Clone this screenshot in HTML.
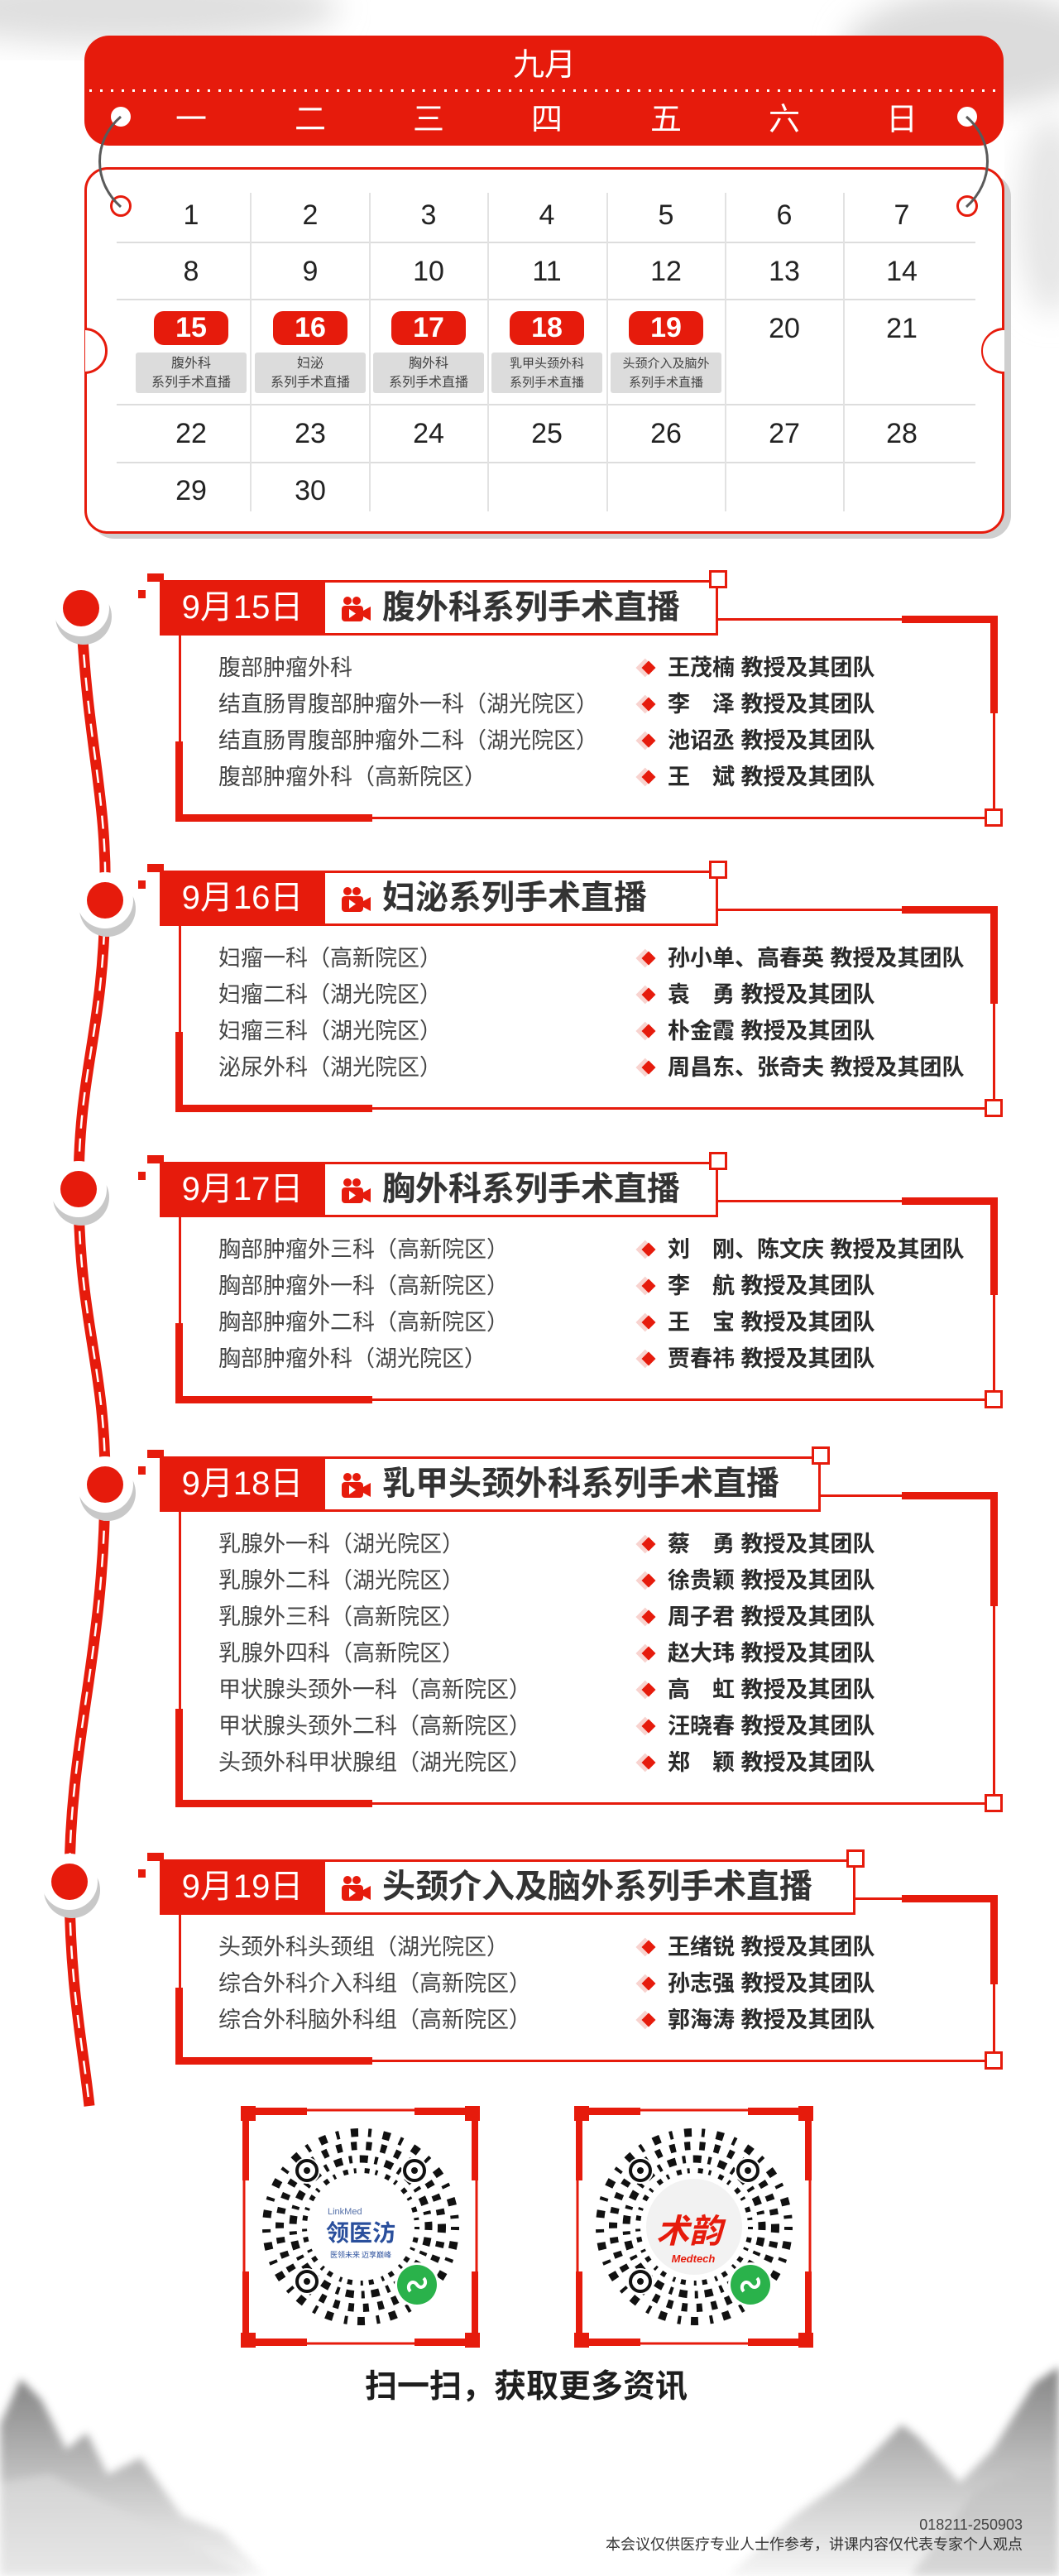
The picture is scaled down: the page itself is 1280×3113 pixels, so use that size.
<!DOCTYPE html>
<html><head><meta charset="utf-8"><style>
*{margin:0;padding:0;box-sizing:border-box}
body{width:1280px;height:3113px;position:relative;background:#fff;overflow:hidden;font-family:"Liberation Sans","Noto Sans CJK SC",sans-serif}
.a{position:absolute}
.r{background:#e61b0c}
.wd{position:absolute;top:122px;width:60px;margin-left:-30px;text-align:center;color:#fff;font-size:38px;line-height:46px}
.n{position:absolute;width:100px;margin-left:-50px;text-align:center;font-family:"Liberation Sans Narrow","Liberation Sans",sans-serif;font-size:34px;color:#222;line-height:40px}
.hl{position:absolute;left:141px;width:1038px;height:2px;background:#ddd}
.vl{position:absolute;top:233px;height:385px;width:2px;background:#e2e2e2}
.bd{position:absolute;top:376px;width:90px;margin-left:-45px;height:41px;border-radius:12px;background:#e61b0c;color:#fff;font-family:"Liberation Sans Narrow","Liberation Sans",sans-serif;font-size:34px;line-height:41px;text-align:center;font-weight:bold}
.gl{position:absolute;top:426px;width:134px;margin-left:-67px;height:49px;background:#dcdcdc;border-radius:3px;color:#444;font-size:16px;line-height:23px;text-align:center;padding-top:2px;white-space:nowrap}
.sec{position:absolute;left:0;width:1280px}
.sec .t{position:absolute;left:264px;font-size:27px;color:#444;line-height:34px;white-space:nowrap}
.sec .m{position:absolute;left:807px;font-size:27px;color:#2a2a2a;font-weight:bold;line-height:34px;white-space:nowrap}
.sec .d{position:absolute;left:778px;width:12px;height:12px;background:#e61b0c;transform:rotate(45deg);box-shadow:-3px 3px 0 2px #f8d3cf}
.sq{position:absolute;width:22px;height:22px;border:3px solid #e61b0c;background:#fff}
.date{position:absolute;left:193px;top:0;width:200px;height:67px;background:#e61b0c;color:#fff;font-size:40px;line-height:67px;text-align:center;font-family:"Liberation Sans Narrow","Liberation Sans","Noto Sans CJK SC",sans-serif}
.ttl{position:absolute;left:393px;top:0;height:67px;border:3px solid #e61b0c;border-left:none;background:#fff;font-size:40px;font-weight:bold;color:#333;line-height:61px;padding-left:69px;white-space:nowrap}
.ic{position:absolute;left:18px;top:16px;width:38px;height:32px}
</style></head><body>

<svg class="a" style="left:0;top:0" width="1280" height="3113">
<defs>
<filter id="bl" x="-20%" y="-20%" width="140%" height="140%"><feGaussianBlur stdDeviation="18"/></filter>
<filter id="bl2"><feGaussianBlur stdDeviation="5"/></filter>
<linearGradient id="mg" x1="0" y1="0" x2="0" y2="1"><stop offset="0" stop-color="#6f6f6f"/><stop offset="0.6" stop-color="#c4c4c4"/><stop offset="1" stop-color="#f4f4f4"/></linearGradient>
</defs>
<ellipse cx="150" cy="10" rx="260" ry="45" fill="#e0e0e0" filter="url(#bl)"/>
<ellipse cx="1180" cy="60" rx="160" ry="70" fill="#dcdcdc" filter="url(#bl)"/>
<ellipse cx="1270" cy="260" rx="40" ry="120" fill="#e6e6e6" filter="url(#bl)"/>
<g filter="url(#bl2)" opacity="0.85">
<path d="M0,2930 L25,2875 L50,2900 L80,2960 L105,2940 L130,2990 L170,2970 L220,3040 L270,3060 L320,3113 L0,3113Z" fill="url(#mg)"/>
<path d="M0,3000 L60,2990 L140,3030 L220,3070 L300,3113 L0,3113Z" fill="#d8d8d8" opacity="0.6"/>
<path d="M880,3113 L960,3040 L1030,2990 L1090,2930 L1110,2945 L1160,3000 L1200,2960 L1250,2880 L1280,2860 L1280,3113Z" fill="url(#mg)"/>
<path d="M1100,3113 L1180,3010 L1230,2990 L1280,2960 L1280,3113Z" fill="#b0b0b0" opacity="0.5"/>
</g>
</svg>

<div class="a" style="left:110px;top:210px;width:1112px;height:441px;border-radius:28px;background:#cfcfcf"></div>
<div class="a" style="left:102px;top:202px;width:1112px;height:443px;border-radius:28px;border:3px solid #e61b0c;background:#fff"></div>
<div class="a" style="left:74px;top:396px;width:56px;height:56px;border-radius:50%;border:3px solid #e61b0c;background:#fff;clip-path:inset(0 0 0 29px)"></div>
<div class="a" style="left:1186px;top:396px;width:56px;height:56px;border-radius:50%;border:3px solid #e61b0c;background:#fff;clip-path:inset(0 29px 0 0)"></div>
<div class="a" style="left:1188px;top:399px;width:52px;height:50px;border-radius:50%;background:#fff;clip-path:inset(0 26px 0 0)"></div>
<div class="a r" style="left:102px;top:43px;width:1111px;height:133px;border-radius:30px"></div>
<div class="a" style="left:0;top:56px;width:1316px;text-align:center;color:#fff;font-size:38px;line-height:46px">九月</div>
<div class="a" style="left:108px;top:108px;width:1100px;height:3px;background:repeating-linear-gradient(90deg,#fff 0 3px,transparent 3px 13px)"></div>
<div class="wd" style="left:231px">一</div><div class="wd" style="left:375px">二</div><div class="wd" style="left:518px">三</div><div class="wd" style="left:661px">四</div><div class="wd" style="left:805px">五</div><div class="wd" style="left:948px">六</div><div class="wd" style="left:1090px">日</div>
<div class="a" style="left:134px;top:129px;width:24px;height:24px;border-radius:50%;background:#fff"></div>
<div class="a" style="left:1157px;top:129px;width:24px;height:24px;border-radius:50%;background:#fff"></div>
<div class="a" style="left:133px;top:236px;width:26px;height:26px;border-radius:50%;border:3px solid #e61b0c"></div>
<div class="a" style="left:1156px;top:236px;width:26px;height:26px;border-radius:50%;border:3px solid #e61b0c"></div>
<svg class="a" style="left:0;top:0" width="1280" height="300">
<path d="M146,141 C112,170 112,220 146,250" stroke="#5a5a5a" stroke-width="3" fill="none"/>
<path d="M1168,141 C1202,170 1202,220 1168,250" stroke="#5a5a5a" stroke-width="3" fill="none"/>
</svg>
<div class="hl" style="top:292px"></div><div class="hl" style="top:361px"></div><div class="hl" style="top:488px"></div><div class="hl" style="top:558px"></div>
<div class="vl" style="left:302px"></div><div class="vl" style="left:446px"></div><div class="vl" style="left:589px"></div><div class="vl" style="left:733px"></div><div class="vl" style="left:876px"></div><div class="vl" style="left:1019px"></div>
<div class="n" style="left:231px;top:240px">1</div><div class="n" style="left:375px;top:240px">2</div><div class="n" style="left:518px;top:240px">3</div><div class="n" style="left:661px;top:240px">4</div><div class="n" style="left:805px;top:240px">5</div><div class="n" style="left:948px;top:240px">6</div><div class="n" style="left:1090px;top:240px">7</div>
<div class="n" style="left:231px;top:308px">8</div><div class="n" style="left:375px;top:308px">9</div><div class="n" style="left:518px;top:308px">10</div><div class="n" style="left:661px;top:308px">11</div><div class="n" style="left:805px;top:308px">12</div><div class="n" style="left:948px;top:308px">13</div><div class="n" style="left:1090px;top:308px">14</div>
<div class="bd" style="left:231px">15</div><div class="bd" style="left:375px">16</div><div class="bd" style="left:518px">17</div><div class="bd" style="left:661px">18</div><div class="bd" style="left:805px">19</div>
<div class="n" style="left:948px;top:377px">20</div><div class="n" style="left:1090px;top:377px">21</div>
<div class="gl" style="left:231px">腹外科<br>系列手术直播</div>
<div class="gl" style="left:375px">妇泌<br>系列手术直播</div>
<div class="gl" style="left:518px">胸外科<br>系列手术直播</div>
<div class="gl" style="left:661px;font-size:15px">乳甲头颈外科<br>系列手术直播</div>
<div class="gl" style="left:805px;font-size:15px">头颈介入及脑外<br>系列手术直播</div>
<div class="n" style="left:231px;top:504px">22</div><div class="n" style="left:375px;top:504px">23</div><div class="n" style="left:518px;top:504px">24</div><div class="n" style="left:661px;top:504px">25</div><div class="n" style="left:805px;top:504px">26</div><div class="n" style="left:948px;top:504px">27</div><div class="n" style="left:1090px;top:504px">28</div>
<div class="n" style="left:231px;top:573px">29</div><div class="n" style="left:375px;top:573px">30</div>

<svg class="a" style="left:0;top:650px" width="260" height="1900">
<g transform="translate(0,-650)">
<path d="M98,735 C105,900 130,960 127,1088 C125,1250 95,1290 95,1437 C95,1600 128,1650 127,1794 C126,2000 84,2100 84,2274 C84,2400 100,2470 108,2545" stroke="#e61b0c" stroke-width="13" fill="none"/>
<path d="M98,735 C105,900 130,960 127,1088 C125,1250 95,1290 95,1437 C95,1600 128,1650 127,1794 C126,2000 84,2100 84,2274 C84,2400 100,2470 108,2545" stroke="#fff" stroke-width="2.5" stroke-dasharray="16 12" fill="none"/>
<g>
<circle cx="101" cy="745" r="34" fill="#c8c8c8"/><circle cx="98" cy="735" r="34" fill="#fff"/><circle cx="98" cy="735" r="22" fill="#e61b0c"/>
<circle cx="130" cy="1098" r="34" fill="#c8c8c8"/><circle cx="127" cy="1088" r="34" fill="#fff"/><circle cx="127" cy="1088" r="22" fill="#e61b0c"/>
<circle cx="98" cy="1447" r="34" fill="#c8c8c8"/><circle cx="95" cy="1437" r="34" fill="#fff"/><circle cx="95" cy="1437" r="22" fill="#e61b0c"/>
<circle cx="130" cy="1804" r="34" fill="#c8c8c8"/><circle cx="127" cy="1794" r="34" fill="#fff"/><circle cx="127" cy="1794" r="22" fill="#e61b0c"/>
<circle cx="87" cy="2284" r="34" fill="#c8c8c8"/><circle cx="84" cy="2274" r="34" fill="#fff"/><circle cx="84" cy="2274" r="22" fill="#e61b0c"/>
</g></g>
</svg>

<svg width="0" height="0" style="position:absolute"><defs><symbol id="cam" viewBox="0 0 38 32"><circle cx="9" cy="6" r="5" fill="#e61b0c"/><circle cx="20" cy="6" r="5" fill="#e61b0c"/><rect x="2" y="12" width="26" height="19" rx="4" fill="#e61b0c"/><path d="M28,18 L37,13 L37,30 L28,25Z" fill="#e61b0c"/><path d="M11,16 L19,21.5 L11,27Z" fill="#fff"/></symbol></defs></svg>

<div class="sec" style="top:701px;height:287px">
 <div class="a r" style="left:178px;top:-8px;width:20px;height:10px"></div><div class="a r" style="left:167px;top:12px;width:9px;height:10px"></div>
 <div class="date">9月15日</div>
 <div class="ttl" style="width:475px"><svg class="ic"><use href="#cam"/></svg>腹外科系列手术直播</div>
 <div class="sq" style="left:857px;top:-12px"></div>
 <div class="a r" style="left:868px;top:46px;width:337px;height:3px"></div>
 <div class="a r" style="left:1090px;top:43px;width:115px;height:9px"></div>
 <div class="a r" style="left:1197px;top:43px;width:9px;height:118px"></div>
 <div class="a r" style="left:1200px;top:160px;width:3px;height:127px"></div>
 <div class="a r" style="left:216px;top:67px;width:3px;height:130px"></div>
 <div class="a r" style="left:212px;top:195px;width:9px;height:96px"></div>
 <div class="a r" style="left:212px;top:283px;width:238px;height:9px"></div>
 <div class="a r" style="left:449px;top:286px;width:745px;height:3px"></div>
 <div class="sq" style="left:1190px;top:276px"></div>
 <div class="t" style="top:89px">腹部肿瘤外科</div><div class="d" style="top:100px"></div><div class="m" style="top:89px">王茂楠 教授及其团队</div>
 <div class="t" style="top:133px">结直肠胃腹部肿瘤外一科（湖光院区）</div><div class="d" style="top:144px"></div><div class="m" style="top:133px">李　泽 教授及其团队</div>
 <div class="t" style="top:177px">结直肠胃腹部肿瘤外二科（湖光院区）</div><div class="d" style="top:188px"></div><div class="m" style="top:177px">池诏丞 教授及其团队</div>
 <div class="t" style="top:221px">腹部肿瘤外科（高新院区）</div><div class="d" style="top:232px"></div><div class="m" style="top:221px">王　斌 教授及其团队</div>
</div>

<div class="sec" style="top:1052px;height:287px">
 <div class="a r" style="left:178px;top:-8px;width:20px;height:10px"></div><div class="a r" style="left:167px;top:12px;width:9px;height:10px"></div>
 <div class="date">9月16日</div>
 <div class="ttl" style="width:475px"><svg class="ic"><use href="#cam"/></svg>妇泌系列手术直播</div>
 <div class="sq" style="left:857px;top:-12px"></div>
 <div class="a r" style="left:868px;top:46px;width:337px;height:3px"></div>
 <div class="a r" style="left:1090px;top:43px;width:115px;height:9px"></div>
 <div class="a r" style="left:1197px;top:43px;width:9px;height:118px"></div>
 <div class="a r" style="left:1200px;top:160px;width:3px;height:127px"></div>
 <div class="a r" style="left:216px;top:67px;width:3px;height:130px"></div>
 <div class="a r" style="left:212px;top:195px;width:9px;height:96px"></div>
 <div class="a r" style="left:212px;top:283px;width:238px;height:9px"></div>
 <div class="a r" style="left:449px;top:286px;width:745px;height:3px"></div>
 <div class="sq" style="left:1190px;top:276px"></div>
 <div class="t" style="top:89px">妇瘤一科（高新院区）</div><div class="d" style="top:100px"></div><div class="m" style="top:89px">孙小单、高春英 教授及其团队</div>
 <div class="t" style="top:133px">妇瘤二科（湖光院区）</div><div class="d" style="top:144px"></div><div class="m" style="top:133px">袁　勇 教授及其团队</div>
 <div class="t" style="top:177px">妇瘤三科（湖光院区）</div><div class="d" style="top:188px"></div><div class="m" style="top:177px">朴金霞 教授及其团队</div>
 <div class="t" style="top:221px">泌尿外科（湖光院区）</div><div class="d" style="top:232px"></div><div class="m" style="top:221px">周昌东、张奇夫 教授及其团队</div>
</div>

<div class="sec" style="top:1404px;height:287px">
 <div class="a r" style="left:178px;top:-8px;width:20px;height:10px"></div><div class="a r" style="left:167px;top:12px;width:9px;height:10px"></div>
 <div class="date">9月17日</div>
 <div class="ttl" style="width:475px"><svg class="ic"><use href="#cam"/></svg>胸外科系列手术直播</div>
 <div class="sq" style="left:857px;top:-12px"></div>
 <div class="a r" style="left:868px;top:46px;width:337px;height:3px"></div>
 <div class="a r" style="left:1090px;top:43px;width:115px;height:9px"></div>
 <div class="a r" style="left:1197px;top:43px;width:9px;height:118px"></div>
 <div class="a r" style="left:1200px;top:160px;width:3px;height:127px"></div>
 <div class="a r" style="left:216px;top:67px;width:3px;height:130px"></div>
 <div class="a r" style="left:212px;top:195px;width:9px;height:96px"></div>
 <div class="a r" style="left:212px;top:283px;width:238px;height:9px"></div>
 <div class="a r" style="left:449px;top:286px;width:745px;height:3px"></div>
 <div class="sq" style="left:1190px;top:276px"></div>
 <div class="t" style="top:89px">胸部肿瘤外三科（高新院区）</div><div class="d" style="top:100px"></div><div class="m" style="top:89px">刘　刚、陈文庆 教授及其团队</div>
 <div class="t" style="top:133px">胸部肿瘤外一科（高新院区）</div><div class="d" style="top:144px"></div><div class="m" style="top:133px">李　航 教授及其团队</div>
 <div class="t" style="top:177px">胸部肿瘤外二科（高新院区）</div><div class="d" style="top:188px"></div><div class="m" style="top:177px">王　宝 教授及其团队</div>
 <div class="t" style="top:221px">胸部肿瘤外科（湖光院区）</div><div class="d" style="top:232px"></div><div class="m" style="top:221px">贾春祎 教授及其团队</div>
</div>

<div class="sec" style="top:1760px;height:419px">
 <div class="a r" style="left:178px;top:-8px;width:20px;height:10px"></div><div class="a r" style="left:167px;top:12px;width:9px;height:10px"></div>
 <div class="date">9月18日</div>
 <div class="ttl" style="width:599px"><svg class="ic"><use href="#cam"/></svg>乳甲头颈外科系列手术直播</div>
 <div class="sq" style="left:981px;top:-12px"></div>
 <div class="a r" style="left:992px;top:46px;width:213px;height:3px"></div>
 <div class="a r" style="left:1090px;top:43px;width:115px;height:9px"></div>
 <div class="a r" style="left:1197px;top:43px;width:9px;height:138px"></div>
 <div class="a r" style="left:1200px;top:180px;width:3px;height:239px"></div>
 <div class="a r" style="left:216px;top:67px;width:3px;height:240px"></div>
 <div class="a r" style="left:212px;top:305px;width:9px;height:118px"></div>
 <div class="a r" style="left:212px;top:415px;width:238px;height:9px"></div>
 <div class="a r" style="left:449px;top:418px;width:745px;height:3px"></div>
 <div class="sq" style="left:1190px;top:408px"></div>
 <div class="t" style="top:89px">乳腺外一科（湖光院区）</div><div class="d" style="top:100px"></div><div class="m" style="top:89px">蔡　勇 教授及其团队</div>
 <div class="t" style="top:133px">乳腺外二科（湖光院区）</div><div class="d" style="top:144px"></div><div class="m" style="top:133px">徐贵颖 教授及其团队</div>
 <div class="t" style="top:177px">乳腺外三科（高新院区）</div><div class="d" style="top:188px"></div><div class="m" style="top:177px">周子君 教授及其团队</div>
 <div class="t" style="top:221px">乳腺外四科（高新院区）</div><div class="d" style="top:232px"></div><div class="m" style="top:221px">赵大玮 教授及其团队</div>
 <div class="t" style="top:265px">甲状腺头颈外一科（高新院区）</div><div class="d" style="top:276px"></div><div class="m" style="top:265px">高　虹 教授及其团队</div>
 <div class="t" style="top:309px">甲状腺头颈外二科（高新院区）</div><div class="d" style="top:320px"></div><div class="m" style="top:309px">汪晓春 教授及其团队</div>
 <div class="t" style="top:353px">头颈外科甲状腺组（湖光院区）</div><div class="d" style="top:364px"></div><div class="m" style="top:353px">郑　颖 教授及其团队</div>
</div>

<div class="sec" style="top:2247px;height:243px">
 <div class="a r" style="left:178px;top:-8px;width:20px;height:10px"></div><div class="a r" style="left:167px;top:12px;width:9px;height:10px"></div>
 <div class="date">9月19日</div>
 <div class="ttl" style="width:641px"><svg class="ic"><use href="#cam"/></svg>头颈介入及脑外系列手术直播</div>
 <div class="sq" style="left:1023px;top:-12px"></div>
 <div class="a r" style="left:1034px;top:46px;width:171px;height:3px"></div>
 <div class="a r" style="left:1090px;top:43px;width:115px;height:9px"></div>
 <div class="a r" style="left:1197px;top:43px;width:9px;height:108px"></div>
 <div class="a r" style="left:1200px;top:150px;width:3px;height:93px"></div>
 <div class="a r" style="left:216px;top:67px;width:3px;height:90px"></div>
 <div class="a r" style="left:212px;top:155px;width:9px;height:92px"></div>
 <div class="a r" style="left:212px;top:239px;width:238px;height:9px"></div>
 <div class="a r" style="left:449px;top:242px;width:745px;height:3px"></div>
 <div class="sq" style="left:1190px;top:232px"></div>
 <div class="t" style="top:89px">头颈外科头颈组（湖光院区）</div><div class="d" style="top:100px"></div><div class="m" style="top:89px">王绪锐 教授及其团队</div>
 <div class="t" style="top:133px">综合外科介入科组（高新院区）</div><div class="d" style="top:144px"></div><div class="m" style="top:133px">孙志强 教授及其团队</div>
 <div class="t" style="top:177px">综合外科脑外科组（高新院区）</div><div class="d" style="top:188px"></div><div class="m" style="top:177px">郭海涛 教授及其团队</div>
</div>

<svg class="a" style="left:0;top:2530px" width="1280" height="330">
<defs>
<g id="frame">
 <rect x="4" y="5" width="281" height="282" fill="#fff" stroke="#e61b0c" stroke-width="3"/>
 <rect x="0" y="0" width="18" height="18" fill="#e61b0c"/><rect x="271" y="0" width="18" height="18" fill="#e61b0c"/>
 <rect x="0" y="274" width="18" height="18" fill="#e61b0c"/><rect x="271" y="274" width="18" height="18" fill="#e61b0c"/>
 <rect x="0" y="2" width="80" height="9" fill="#e61b0c"/><rect x="210" y="2" width="79" height="9" fill="#e61b0c"/>
 <rect x="0" y="281" width="80" height="9" fill="#e61b0c"/><rect x="210" y="281" width="79" height="9" fill="#e61b0c"/>
 <rect x="2" y="0" width="8" height="90" fill="#e61b0c"/><rect x="2" y="200" width="8" height="92" fill="#e61b0c"/>
 <rect x="279" y="0" width="8" height="90" fill="#e61b0c"/><rect x="279" y="200" width="8" height="92" fill="#e61b0c"/>
 <g transform="translate(145,146)">
  <circle r="114" fill="none" stroke="#111" stroke-width="10" stroke-dasharray="4 14 9 12"/>
  <circle r="98" fill="none" stroke="#111" stroke-width="10" stroke-dasharray="7 11"/>
  <circle r="82" fill="none" stroke="#111" stroke-width="9" stroke-dasharray="4 9 10 8"/>
  <circle r="68" fill="none" stroke="#111" stroke-width="6" stroke-dasharray="3 10 6 7"/>
  <circle cx="-65" cy="-68" r="16" fill="#fff"/><circle cx="-65" cy="-68" r="12" fill="none" stroke="#111" stroke-width="4"/><circle cx="-65" cy="-68" r="4" fill="#111"/>
  <circle cx="65" cy="-68" r="16" fill="#fff"/><circle cx="65" cy="-68" r="12" fill="none" stroke="#111" stroke-width="4"/><circle cx="65" cy="-68" r="4" fill="#111"/>
  <circle cx="-65" cy="66" r="16" fill="#fff"/><circle cx="-65" cy="66" r="12" fill="none" stroke="#111" stroke-width="4"/><circle cx="-65" cy="66" r="4" fill="#111"/>
  <circle cx="68" cy="70" r="27" fill="#fff"/><circle cx="68" cy="70" r="24" fill="#2ab24b"/>
  <path d="M60,78 C54,72 62,62 68,70 C74,78 82,68 76,62" stroke="#fff" stroke-width="4" fill="none"/>
 </g>
</g>
</defs>
<use href="#frame" x="291" y="15"/>
<use href="#frame" x="694" y="15"/>
<circle cx="839" cy="161" r="58" fill="#f2f2f2"/>
<text x="396" y="146" font-family="Liberation Sans" font-size="11" fill="#5570a8">LinkMed</text>
<text x="436" y="178" text-anchor="middle" font-family="Noto Sans CJK SC" font-weight="bold" font-size="28" fill="#2a4f9c">领医汸</text>
<text x="436" y="198" text-anchor="middle" font-family="Noto Sans CJK SC" font-size="9" fill="#2a4f9c">医领未来 迈享巅峰</text>
<text x="833" y="180" text-anchor="middle" font-family="Noto Sans CJK SC" font-weight="bold" font-size="40" fill="#e61b0c" font-style="italic">术韵</text>
<text x="838" y="204" text-anchor="middle" font-family="Liberation Sans" font-weight="bold" font-style="italic" font-size="13" fill="#e61b0c">Medtech</text>
</svg>

<div class="a" style="left:0;top:2860px;width:1272px;text-align:center;font-size:39px;font-weight:bold;color:#1e1e1e;line-height:50px">扫一扫，获取更多资讯</div>
<div class="a" style="right:44px;top:3040px;font-size:18px;color:#444;line-height:22px;text-align:right;font-family:'Liberation Sans Narrow','Liberation Sans',sans-serif">018211-250903</div>
<div class="a" style="right:44px;top:3063px;font-size:18px;color:#333;line-height:24px;text-align:right;white-space:nowrap">本会议仅供医疗专业人士作参考，讲课内容仅代表专家个人观点</div>
</body></html>
